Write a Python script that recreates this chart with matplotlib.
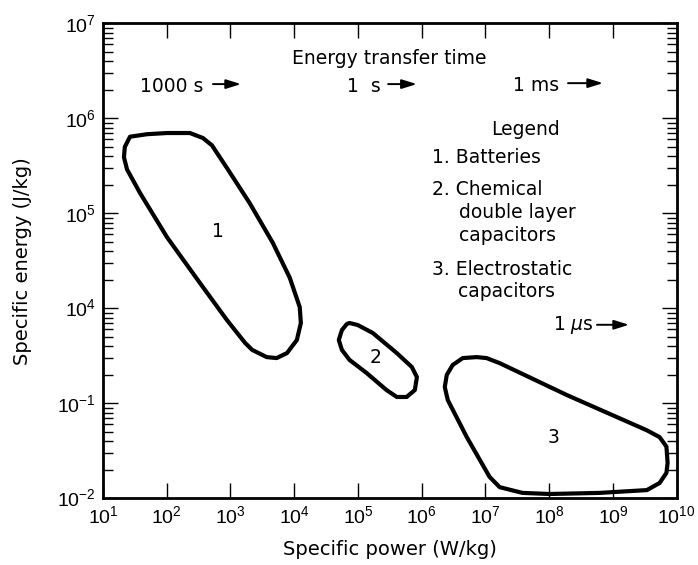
import numpy as np
import matplotlib
matplotlib.use("Agg")
import matplotlib.pyplot as plt
from matplotlib.patches import Polygon
from matplotlib.ticker import FixedLocator, NullLocator

plt.rcParams['font.family'] = ['DejaVu Sans']
plt.rcParams['mathtext.fontset'] = 'custom'
plt.rcParams['mathtext.rm'] = 'Liberation Sans'
plt.rcParams['mathtext.it'] = 'DejaVu Sans:italic'

# outlines (W/kg, J/kg)
batt_power = [26.5, 49, 101, 231, 369, 511, 879, 2.0e3, 4.6e3, 8.5e3, 1.22e4, 1.27e4,
              1.10e4, 7.7e3, 5.3e3, 3.7e3, 2.2e3, 1.7e3, 880, 331, 101, 38, 23.8, 21.3, 22]
batt_energy = [6.4e5, 6.8e5, 7.0e5, 7.0e5, 6.2e5, 5.2e5, 3.0e5, 1.28e5, 4.9e4, 2.1e4, 1.03e4, 1.68e3,
               215, 44, 24, 27, 64, 149, 2.4e3, 1.85e4, 5.6e4, 1.64e5, 2.9e5, 3.9e5, 5.0e5]

dl_power = [7.4e4, 9.9e4, 1.71e5, 4.06e5, 7.0e5, 8.4e5, 7.8e5, 5.8e5, 4.06e5, 2.8e5,
            1.37e5, 7.4e4, 5.6e4, 5.0e4, 5.6e4, 6.7e4]
dl_energy = [1.68e3, 1.32e3, 500, 44, 8.1, 2.4, 0.50, 0.215, 0.215, 0.50,
             3.9, 19, 64, 215, 720, 1.5e3]

es_power = [7.3e6, 1.04e7, 1.67e7, 1.9e8, 3.4e9, 5.4e9, 6.9e9, 7.2e9, 6.9e9, 5.4e9, 3.4e9,
            6.2e8, 1.01e8, 3.8e7, 1.67e7, 1.16e7, 5.1e6, 2.56e6, 2.3e6, 2.47e6, 3.06e6, 4.4e6]
es_energy = [27, 24, 13, 0.27, 0.052, 0.044, 0.035, 0.0236, 0.0185, 0.0145, 0.0122,
             0.0114, 0.0111, 0.0114, 0.0131, 0.0168, 0.044, 0.149, 0.72, 3.1, 10.4, 24]

region_names = ["1", "2", "3"]
region_label_pos = [(630, 6.5e4), (1.9e5, 27), (1.17e8, 0.044)]

x_ticks = [10.0**k for k in range(1, 11)]
x_ticklabels = ["$10^{%d}$" % k for k in range(1, 11)]
y_ticks = [1e-2, 1e-1, 1e4, 1e5, 1e6, 1e7]
y_ticklabels = ["$10^{-2}$", "$10^{-1}$", "$10^{4}$", "$10^{5}$", "$10^{6}$", "$10^{7}$"]

legend_lines = ["1. Batteries", "2. Chemical", "double layer", "capacitors",
                "3. Electrostatic", "capacitors"]


# broken y axis: 1e-1..1e4 squeezed into one decade of height
def fwd(y):
    l = np.log10(np.clip(y, 1e-300, None))
    return np.where(l <= -1, l + 2, np.where(l >= 4, l - 2, 1 + (l + 1) / 5.0))


def inv(p):
    p = np.asarray(p, dtype=float)
    return 10.0 ** np.where(p <= 1, p - 2, np.where(p >= 2, p + 2, (p - 1) * 5.0 - 1))


fig = plt.figure(figsize=(6.98, 5.65), dpi=100)
ax = fig.add_axes([103 / 698, 1 - 498.3 / 565, 573.7 / 698, 475 / 565])
ax.set_xscale('log')
ax.set_yscale('function', functions=(fwd, inv))
ax.set_xlim(10, 1e10)
ax.set_ylim(1e-2, 1e7)

for px, py in [(batt_power, batt_energy), (dl_power, dl_energy), (es_power, es_energy)]:
    poly = Polygon(np.column_stack([px, py]), closed=True, fill=False,
                   edgecolor='black', lw=3, joinstyle='round')
    ax.add_patch(poly)

for name, (xx, yy) in zip(region_names, region_label_pos):
    ax.text(xx, yy, name, ha='center', va='center', fontsize=13.5)

ax.set_xticks(x_ticks)
ax.set_xticklabels(x_ticklabels)
ax.xaxis.set_minor_locator(NullLocator())
ax.set_yticks(y_ticks)
ax.set_yticklabels(y_ticklabels)
minor = [k * 10.0**n for n in (-2, 4, 5, 6) for k in range(2, 10)]
minor += [k**5 / 10.0 for k in range(2, 10)]
ax.yaxis.set_minor_locator(FixedLocator(minor))

ax.tick_params(which='both', direction='in', top=True, right=True, width=1, color='black')
ax.tick_params(which='major', length=11, labelsize=14, pad=5)
ax.tick_params(which='minor', length=7.5)
for s in ax.spines.values():
    s.set_linewidth(2)

ax.set_xlabel("Specific power (W/kg)", fontsize=14)
ax.set_ylabel("Specific energy (J/kg)", fontsize=14)
ax.xaxis.set_label_coords(0.5, -0.088)
ax.yaxis.set_label_coords(-0.124, 0.5)

# energy transfer time labels
ax.text(0.329, 0.914, "Energy transfer time", transform=ax.transAxes, fontsize=13.5)
time_labels = ["1000 s", "1  s", "1 ms", "1 $\\mu$s"]
time_pos = [(0.0645, 0.856), (0.425, 0.856), (0.7147, 0.857), (0.8545, 0.354)]
time_ha = ['left', 'left', 'left', 'right']
arrow_pos = [(0.1917, 0.2406, 0.872), (0.497, 0.547, 0.872), (0.8105, 0.8716, 0.874),
             (0.8611, 0.9169, 0.3653)]
for lab, (tx, ty), h in zip(time_labels, time_pos, time_ha):
    ax.text(tx, ty, lab, transform=ax.transAxes, fontsize=13.5, ha=h)
for x0, x1, yy in arrow_pos:
    ax.annotate('', xy=(x1, yy), xytext=(x0, yy), xycoords='axes fraction',
                arrowprops=dict(arrowstyle='-|>,head_length=0.9,head_width=0.28',
                                color='black', lw=1.4, shrinkA=0, shrinkB=0))

# legend block
ax.text(0.7365, 0.765, "Legend", transform=ax.transAxes, fontsize=13.5, ha='center')
leg_x = [0.5735, 0.5735, 0.6205, 0.6205, 0.5735, 0.619]
leg_y = [0.705, 0.6385, 0.590, 0.5423, 0.470, 0.4238]
for t, lx, ly in zip(legend_lines, leg_x, leg_y):
    ax.text(lx, ly, t, transform=ax.transAxes, fontsize=13.5)

fig.savefig("out.png", dpi=100)
